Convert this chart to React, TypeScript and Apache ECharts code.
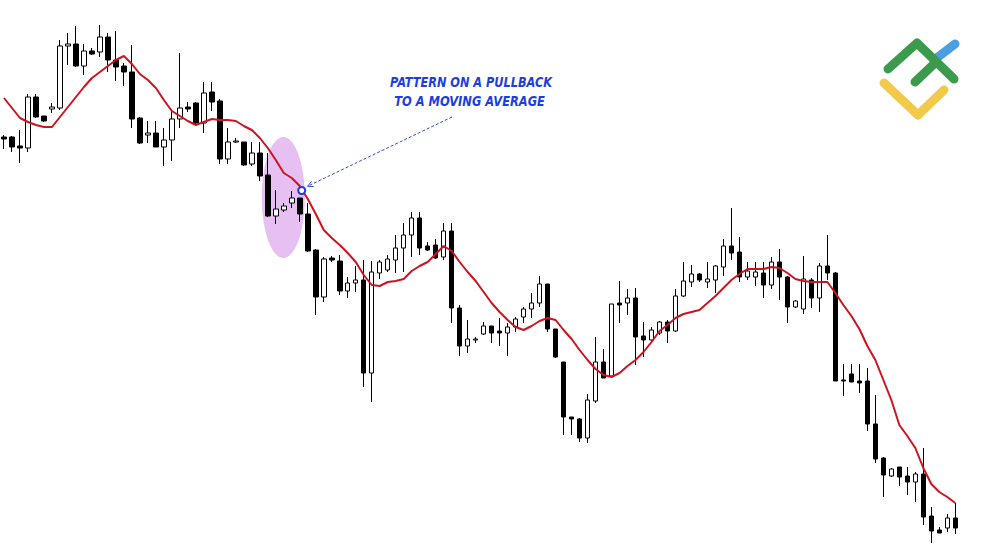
import React, { useEffect, useRef } from "react";
import * as echarts from "echarts";

// price units (pixel-like scale, 0..545)
const opens = [408,408,399,397,448,429,436,437,499,501,479,494,493,508,485,479,473,427,410,412,398,405,426,438,442,422,453,444,386,403,403,381,392,370,329,335,342,347,331,295,248,287,284,254,262,265,172,272,275,285,297,310,327,299,300,288,314,237,199,205,211,219,214,212,218,228,236,242,261,216,183,128,126,107,144,183,169,242,242,247,209,205,212,223,214,249,263,271,263,265,278,299,293,268,268,272,260,283,268,238,236,265,247,279,272,165,171,164,164,121,87,69,78,69,63,71,29,15,17,27];
const closes = [406,398,397,448,428,424,438,499,501,479,494,491,508,485,478,473,426,402,412,398,405,426,437,436,422,452,443,386,403,404,380,392,369,329,336,339,347,331,294,248,286,285,254,262,265,172,273,283,286,297,310,327,297,295,287,314,237,199,206,206,219,212,212,218,226,236,242,261,216,188,128,126,107,145,183,167,241,240,247,208,205,215,223,214,249,264,271,265,266,279,299,292,268,274,273,260,283,268,238,244,266,247,279,272,164,164,163,162,121,86,70,76,68,63,71,28,14,12,27,17];
const lows = [396,393,382,393,427,423,432,435,480,478,470,490,488,473,464,459,417,401,402,398,379,384,417,433,421,412,434,381,381,402,379,379,364,328,321,333,337,323,293,230,243,283,250,247,253,158,143,266,273,272,273,288,290,294,286,285,222,189,192,202,210,202,199,189,213,222,227,238,213,187,110,110,103,102,142,167,168,222,230,180,188,203,210,202,213,248,258,263,257,252,269,285,263,265,259,247,256,245,222,237,231,237,233,265,164,149,163,152,114,82,48,68,59,50,43,20,2,12,13,11];
const highs = [410,409,415,451,451,429,442,505,512,519,501,497,520,512,514,482,500,428,424,424,417,435,492,443,443,463,463,446,417,407,403,403,403,392,355,342,354,347,342,296,288,289,290,268,279,285,284,285,290,310,322,333,333,303,306,322,322,240,225,208,223,219,227,222,228,238,252,269,261,216,183,128,127,151,208,196,241,264,256,257,223,218,224,225,256,283,280,272,283,280,306,337,308,283,283,283,288,296,269,245,289,267,282,310,273,181,181,181,177,150,88,77,78,78,73,97,38,18,31,42];
const movingAverage = [447,437,427,423,420,418,418,428,438,448,458,467,473,479,485,489,481,471,465,457,445,434,429,424,420,423,426,425,425,424,419,415,407,397,385,372,367,359,346,331,315,307,300,292,283,270,260,259,263,264,266,274,279,283,291,299,294,283,273,264,253,242,233,225,218,215,219,224,227,225,215,206,195,185,176,170,168,172,179,185,193,203,214,220,227,231,233,235,242,249,257,265,271,276,276,276,278,277,272,266,264,263,263,263,252,240,229,216,199,185,165,145,120,109,97,77,61,53,48,42];
const categories = opens.map((_, i) => String(i + 1));
const noteLines = ["PATTERN ON A PULLBACK", "TO A MOVING AVERAGE"];

export default function App() {
  const ref = useRef<HTMLDivElement>(null);
  useEffect(() => {
    if (!ref.current) return;
    const chart = echarts.init(ref.current, undefined, { renderer: "svg" });
    const candles = opens.map((o, i) => [o, closes[i], lows[i], highs[i]]);
    const blue = "#1c3de0";
    const logoW = 9;
    const noteFont = "italic bold 14px 'Liberation Sans Narrow', 'DejaVu Sans Condensed', sans-serif";
    chart.setOption({
      animation: false,
      backgroundColor: "#ffffff",
      grid: { left: -0.7, width: 960, top: 0, height: 545 },
      xAxis: { type: "category", data: categories, show: false, boundaryGap: true },
      yAxis: { type: "value", min: 0, max: 545, show: false },
      series: [
        {
          type: "candlestick",
          data: candles,
          barWidth: 5,
          itemStyle: {
            color: "#ffffff",
            color0: "#000000",
            borderColor: "#000000",
            borderColor0: "#000000",
            borderWidth: 1,
          },
          z: 3,
        },
        {
          type: "line",
          data: movingAverage,
          symbol: "none",
          lineStyle: { color: "#cc1420", width: 2 },
          z: 4,
        },
      ],
      graphic: [
        {
          type: "ellipse",
          shape: { cx: 283.3, cy: 197.5, rx: 21.5, ry: 60.5 },
          style: { fill: "#e6bff3" },
          z: 1,
        },
        {
          type: "line",
          shape: { x1: 452, y1: 117, x2: 308, y2: 186 },
          style: { stroke: "#2a4fc0", lineWidth: 1, lineDash: [3, 2] },
          z: 10,
        },
        {
          type: "polyline",
          shape: { points: [[313.8, 186.6], [307.5, 186.3], [311.6, 181.4]] },
          style: { stroke: "#2a4fc0", lineWidth: 1, fill: null },
          z: 10,
        },
        {
          type: "circle",
          shape: { cx: 301.7, cy: 190.5, r: 3.5 },
          style: { stroke: "#1f3fd6", lineWidth: 2, fill: "#ffffff" },
          z: 10,
        },
        {
          type: "text",
          x: 471,
          y: 82,
          scaleX: 0.9,
          style: {
            text: noteLines[0],
            font: noteFont,
            fill: blue,
            align: "center",
            verticalAlign: "middle",
          },
          z: 10,
        },
        {
          type: "text",
          x: 469.5,
          y: 101.5,
          scaleX: 0.91,
          style: {
            text: noteLines[1],
            font: noteFont,
            fill: blue,
            align: "center",
            verticalAlign: "middle",
          },
          z: 10,
        },
        {
          type: "polyline",
          shape: { points: [[884, 83], [918, 115], [944, 90]] },
          style: { stroke: "#f2c94a", lineWidth: logoW, lineCap: "round", lineJoin: "round", fill: null },
          z: 10,
        },
        {
          type: "line",
          shape: { x1: 938, y1: 57, x2: 955, y2: 44 },
          style: { stroke: "#4a9fe2", lineWidth: logoW, lineCap: "round" },
          z: 10,
        },
        {
          type: "polyline",
          shape: { points: [[888, 69], [917, 43], [954, 79]] },
          style: { stroke: "#3b9a4b", lineWidth: logoW, lineCap: "round", lineJoin: "round", fill: null },
          z: 11,
        },
        {
          type: "line",
          shape: { x1: 915, y1: 82, x2: 935, y2: 63 },
          style: { stroke: "#3b9a4b", lineWidth: logoW, lineCap: "round" },
          z: 11,
        },
      ],
    });
    return () => chart.dispose();
  }, []);
  return (
    <div
      ref={ref}
      style={{ position: "fixed", left: 0, top: 0, width: 1000, height: 545, background: "#fff" }}
    />
  );
}
